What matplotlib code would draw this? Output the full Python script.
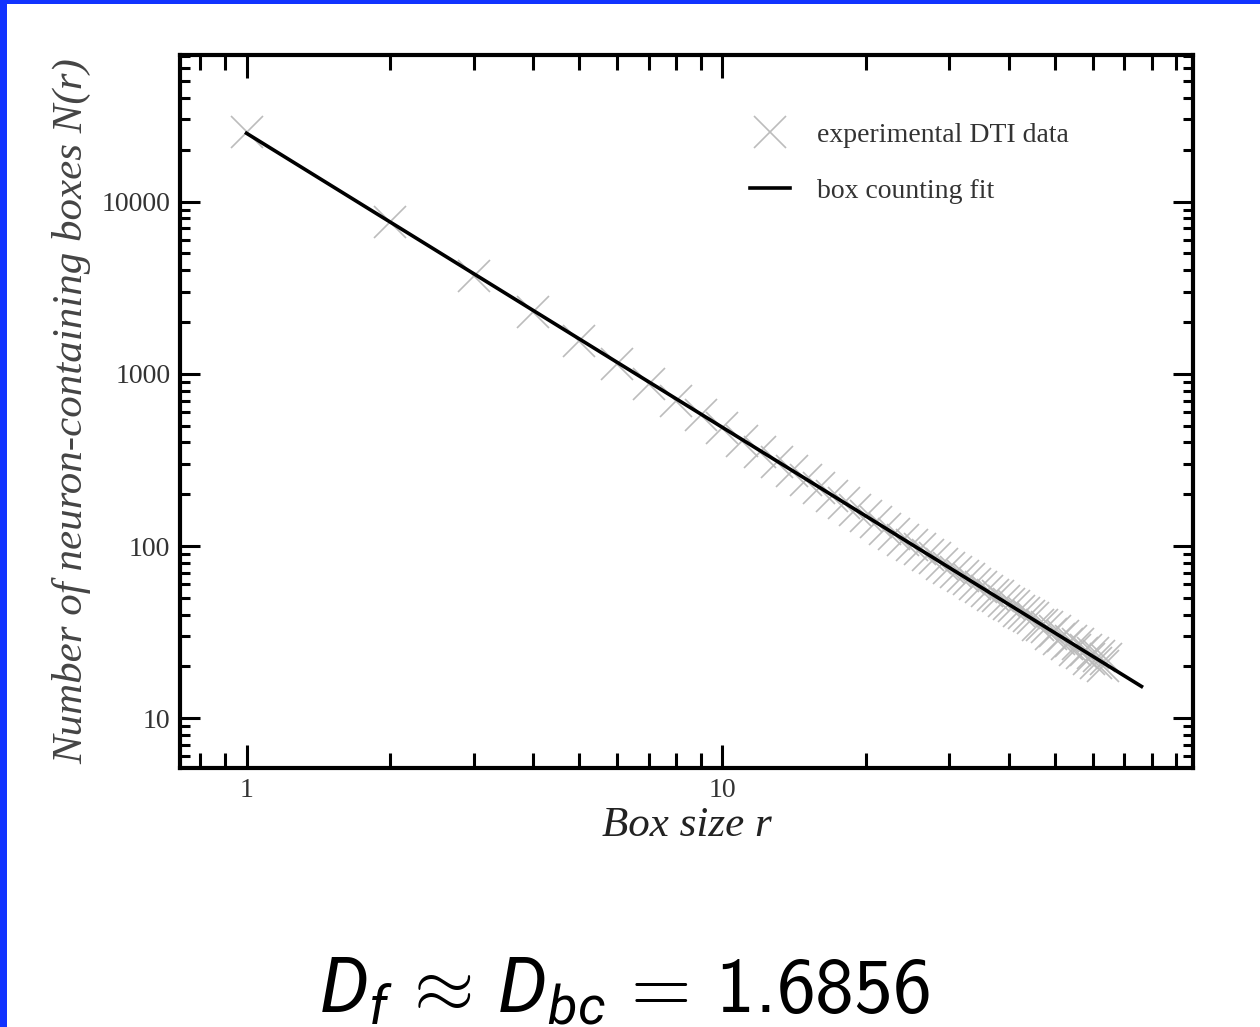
import matplotlib.pyplot as plt
from matplotlib.patches import Rectangle
from matplotlib.ticker import LogLocator, NullFormatter

# box counting data
box_size = list(range(1, 65))
n_boxes = [25400, 7600, 3720, 2280, 1560, 1140, 875, 700, 575, 482,
           410, 352, 309, 272, 243, 216, 196, 177, 162, 149,
           137, 126, 118, 109, 102, 96, 89, 85, 79, 75,
           71, 67, 64, 60, 58, 55, 52, 51, 48, 46,
           45, 42, 41, 39, 38, 35, 35, 34, 31, 32,
           29, 30, 27, 28, 25, 27, 24, 25, 22, 24,
           21, 23, 20, 22]

# end points of the fitted power law
fit_r = [1, 76]
fit_n = [24950, 15.3]

x_ticks = [1, 10]
x_tick_labels = ['1', '10']
y_ticks = [10, 100, 1000, 10000]
y_tick_labels = ['10', '100', '1000', '10000']

plt.rcParams['mathtext.fontset'] = 'custom'
plt.rcParams['mathtext.rm'] = 'cmss10'
plt.rcParams['mathtext.it'] = 'Roboto:italic'
plt.rcParams['mathtext.bf'] = 'cmss10'

fig = plt.figure(figsize=(12.6, 10.27), dpi=100)
ax = fig.add_axes([0.1429, 0.2522, 0.8039, 0.6942])

ax.plot(box_size, n_boxes, linestyle='none', marker='x', markersize=23,
        markeredgewidth=1.2, color='#bcbcbc', label='experimental DTI data')
ax.plot(fit_r, fit_n, color='black', lw=2.6, label='box counting fit')

ax.set_xscale('log')
ax.set_yscale('log')
ax.set_xlim(0.725, 97.5)
ax.set_ylim(5.14, 71000)

ax.set_xticks(x_ticks, x_tick_labels)
ax.set_yticks(y_ticks, y_tick_labels)
ax.xaxis.set_minor_locator(LogLocator(base=10, subs=[2, 3, 4, 5, 6, 7, 8, 9], numticks=50))
ax.yaxis.set_minor_locator(LogLocator(base=10, subs=[2, 3, 4, 5, 6, 7, 8, 9], numticks=50))
ax.xaxis.set_minor_formatter(NullFormatter())
ax.yaxis.set_minor_formatter(NullFormatter())

for lab in ax.get_xticklabels() + ax.get_yticklabels():
    lab.set_fontfamily('Liberation Serif')
    lab.set_fontsize(20)
    lab.set_color('#333333')

ax.tick_params(which='both', direction='in', top=True, right=True, width=2.2)
ax.tick_params(axis='x', which='major', length=16.5, pad=7)
ax.tick_params(axis='x', which='minor', length=10.5)
ax.tick_params(axis='y', which='major', length=14.5, pad=7)
ax.tick_params(axis='y', which='minor', length=7.2)
for sp in ax.spines.values():
    sp.set_linewidth(3)

ax.set_xlabel('Box size r', family='Liberation Serif', style='italic',
              fontsize=31, color='#222222', labelpad=3)
ax.set_ylabel('Number of neuron-containing boxes N(r)', family='Liberation Serif',
              style='italic', fontsize=31, color='#444444', labelpad=7)

leg = ax.legend(loc='upper left', bbox_to_anchor=(0.5627, 0.905), frameon=False,
                prop={'family': 'Liberation Serif', 'size': 20},
                handlelength=1.45, handletextpad=0.95, labelspacing=1.1,
                borderpad=0, borderaxespad=0)
for t in leg.get_texts():
    t.set_color('#333333')

fig.text(0.496, 0.0146, r'$D_f \,\approx\, D_{bc} \,=\, 1.6856$', ha='center',
         va='baseline', fontsize=56, color='black')

# blue slide frame
fig.add_artist(Rectangle((0, 1 - 4 / 1027), 1, 4 / 1027, transform=fig.transFigure,
                         facecolor='#1133ff', edgecolor='none'))
fig.add_artist(Rectangle((0, 0), 7 / 1260, 1, transform=fig.transFigure,
                         facecolor='#1133ff', edgecolor='none'))

fig.savefig('out.png', dpi=100)
